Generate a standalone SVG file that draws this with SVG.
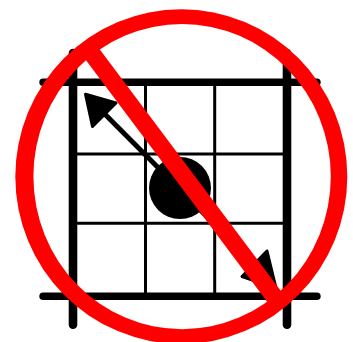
<svg xmlns="http://www.w3.org/2000/svg" width="353" height="342" viewBox="0 0 353 342">
<style>
.thick{stroke:#000;stroke-linecap:round;fill:none}
.thin{stroke:#000;stroke-width:3;fill:none}
.head{fill:#000;stroke:#000;stroke-width:3;stroke-linejoin:round}
</style>
<rect width="353" height="342" fill="#fff"/>
<g id="grid">
<path class="thin" d="M145.500 82V296M214.700 82V296M73 154H287M73 223.300H287"/>
<path class="thick" stroke-width="8.600" d="M73 53V324.700M287 53V324.700"/>
<path class="thick" stroke-width="7.600" d="M43.100 82.300H316.900M43.100 296.200H316.900"/>
</g>
<g id="dot"><circle cx="180" cy="188" r="31"/></g>
<g id="arrow">
<path d="M100 109.300L258 268" stroke="#000" stroke-width="5" fill="none"/>
<path class="head" d="M85.500 94.200L116 103L92.500 126.500Z"/>
<path class="head" d="M267 251L242 276.500L276 288Z"/>
</g>
<g id="prohibition">
<path fill="#f00" fill-rule="evenodd" d="M15.300 176.600A166 167.300 0 0 1 347.300 176.600A166 167.300 0 0 1 15.300 176.600ZM33.400 176.600A148.700 152.600 0 0 0 330.800 176.600A148.700 152.600 0 0 0 33.400 176.600Z"/>
<path d="M90 51L276 299" stroke="#f00" stroke-width="17.500" fill="none"/>
</g>
</svg>
